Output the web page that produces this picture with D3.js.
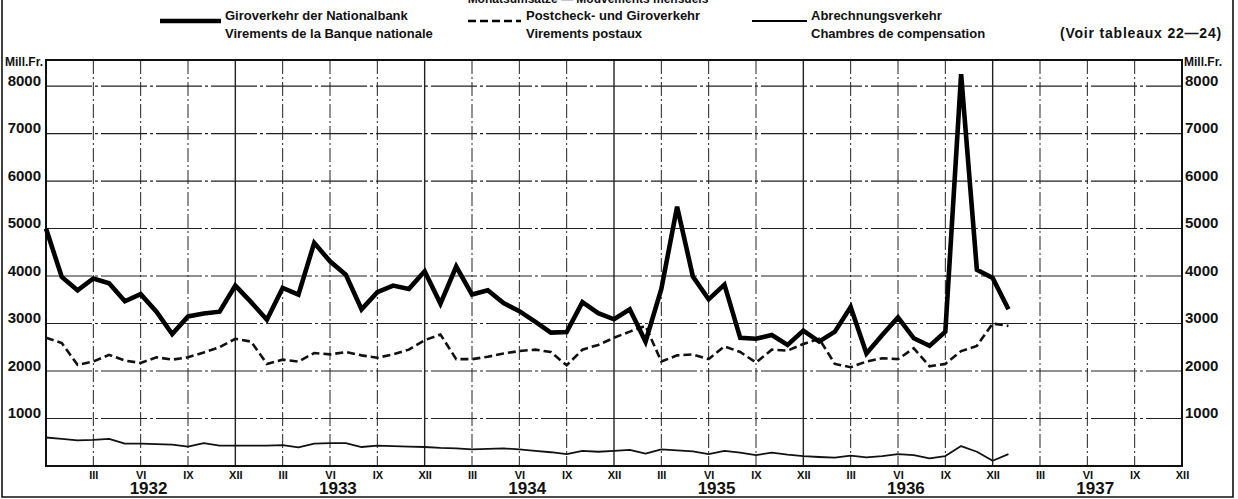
<!DOCTYPE html>
<html>
<head>
<meta charset="utf-8">
<script src="https://cdn.jsdelivr.net/npm/d3@7"></script>
<style>
  html, body { margin: 0; padding: 0; background: #fff; }
  svg { display: block; }
  text { font-family: "Liberation Sans", Arial, sans-serif; font-weight: bold; fill: #111; }
</style>
</head>
<body>
<svg id="chart" width="1238" height="499"></svg>
<script>
// ---- Data (month index 0 = XII 1931, 72 = XII 1937) ----
const monthIndex = d3.range(0, 62);
// Giroverkehr der Nationalbank (Mill. Fr.)
const giro = [5000, 3980, 3700, 3950, 3850, 3470, 3620, 3250, 2780, 3150, 3210, 3250,
              3800, 3450, 3080, 3750, 3610, 4700, 4310, 4030, 3300, 3660, 3800, 3730,
              4100, 3420, 4200, 3610, 3700, 3430, 3260, 3040, 2810, 2820, 3450, 3220,
              3090, 3300, 2620, 3730, 5460, 3990, 3510, 3820, 2700, 2680, 2760, 2550,
              2850, 2620, 2830, 3350, 2370, 2760, 3130, 2690, 2530, 2830, 8250, 4130,
              3960, 3300];
// Postcheck- und Giroverkehr
const postal = [2700, 2590, 2130, 2200, 2340, 2220, 2170, 2290, 2240, 2290, 2390, 2500,
                2680, 2620, 2150, 2240, 2200, 2380, 2350, 2400, 2330, 2280, 2350, 2450,
                2650, 2770, 2250, 2250, 2300, 2370, 2420, 2450, 2400, 2120, 2450, 2550,
                2700, 2830, 2950, 2200, 2330, 2350, 2250, 2520, 2400, 2180, 2450, 2430,
                2570, 2680, 2150, 2080, 2200, 2270, 2250, 2480, 2100, 2150, 2420, 2530,
                3000, 2950];
// Abrechnungsverkehr
const clearing = [600, 570, 540, 550, 570, 470, 470, 460, 450, 410, 480, 430,
                  430, 430, 430, 440, 390, 470, 480, 480, 400, 430, 420, 410,
                  400, 380, 370, 350, 360, 370, 350, 320, 290, 250, 320, 300,
                  320, 340, 260, 350, 330, 310, 250, 320, 280, 230, 280, 240,
                  210, 190, 175, 220, 180, 210, 250, 230, 160, 210, 420, 300,
                  110, 250];
const yTicks = [1000, 2000, 3000, 4000, 5000, 6000, 7000, 8000];
const monthTickLabels = ["III", "VI", "IX", "XII"];
const years = ["1932", "1933", "1934", "1935", "1936", "1937"];
const legendTop = ["Giroverkehr der Nationalbank", "Postcheck- und Giroverkehr", "Abrechnungsverkehr"];
const legendBottom = ["Virements de la Banque nationale", "Virements postaux", "Chambres de compensation"];

// ---- Layout ----
const svg = d3.select("#chart");
const L = 46, R = 1182, T = 60, B = 466;
const x = d3.scaleLinear().domain([0, 72]).range([L, R]);
const y = d3.scaleLinear().domain([0, 8550]).range([B, T]);

// outer frame
svg.append("path")
  .attr("d", "M2,0 V497 H1233 V0")
  .attr("fill", "none").attr("stroke", "#111").attr("stroke-width", 1.6);

// partial title at top (cut off as in the original)
svg.append("text").attr("x", 588).attr("y", 3).attr("text-anchor", "middle")
  .style("font-size", "12px").text("Monatsumsätze — Mouvements mensuels");

// grid: horizontal
const g = svg.append("g");
g.selectAll("line.h").data(yTicks).join("line")
  .attr("x1", L).attr("x2", R)
  .attr("y1", d => y(d)).attr("y2", d => y(d))
  .attr("stroke", "#222").attr("stroke-width", 1.1)
  .attr("stroke-dasharray", "46,3,3,3");

// grid: vertical every 3 months
const vTicks = d3.range(3, 72, 3);
g.selectAll("line.v").data(vTicks).join("line")
  .attr("x1", d => x(d)).attr("x2", d => x(d))
  .attr("y1", T).attr("y2", B)
  .attr("stroke", "#222")
  .attr("stroke-width", d => d % 12 === 0 ? 1.4 : 1.0)
  .attr("stroke-dasharray", d => d % 12 === 0 ? null : "14,3,2,3");

// plot frame
svg.append("rect").attr("x", L).attr("y", T).attr("width", R - L).attr("height", B - T)
  .attr("fill", "none").attr("stroke", "#111").attr("stroke-width", 2);

// axes
const leftAxis = svg.append("g").attr("transform", `translate(${L},0)`)
  .call(d3.axisLeft(y).tickValues(yTicks).tickSize(0).tickPadding(5).tickFormat(d3.format("d")));
const rightAxis = svg.append("g").attr("transform", `translate(${R},0)`)
  .call(d3.axisRight(y).tickValues(yTicks).tickSize(0).tickPadding(3).tickFormat(d3.format("d")));
[leftAxis, rightAxis].forEach(a => {
  a.select(".domain").remove();
  a.selectAll("text").style("font-size", "15px").style("font-family", "\"Liberation Sans\", Arial, sans-serif")
    .style("font-weight", "bold").attr("fill", "#111").attr("dy", "-0.05em");
});

const bottomTicks = d3.range(3, 73, 3);
const bottomAxis = svg.append("g").attr("transform", `translate(0,${B})`)
  .call(d3.axisBottom(x).tickValues(bottomTicks).tickSize(0).tickPadding(5)
    .tickFormat(d => monthTickLabels[(d / 3 - 1) % 4]));
bottomAxis.select(".domain").remove();
bottomAxis.selectAll("text").style("font-size", "11px").style("font-family", "\"Liberation Sans\", Arial, sans-serif")
  .style("font-weight", "bold").attr("fill", "#111");

// year labels
svg.selectAll("text.year").data(years).join("text")
  .attr("class", "year")
  .attr("x", (d, i) => x(6.5 + 12 * i)).attr("y", 494)
  .attr("text-anchor", "middle").style("font-size", "17px").text(d => d);

// unit labels
svg.append("text").attr("x", 5).attr("y", 66).style("font-size", "12px").text("Mill.Fr.");
svg.append("text").attr("x", 1184).attr("y", 66).style("font-size", "12px").text("Mill.Fr.");

// series lines
const line = arr => d3.line().x((d, i) => x(monthIndex[i])).y(d => y(d))(arr);
const plot = svg.append("g");
plot.append("path").attr("d", line(clearing)).attr("fill", "none")
  .attr("stroke", "#111").attr("stroke-width", 1.8).attr("stroke-linejoin", "round");
plot.append("path").attr("d", line(postal)).attr("fill", "none")
  .attr("stroke", "#111").attr("stroke-width", 2.6).attr("stroke-dasharray", "8,4");
plot.append("path").attr("d", line(giro)).attr("fill", "none")
  .attr("stroke", "#000").attr("stroke-width", 4.6).attr("stroke-linejoin", "miter").attr("stroke-miterlimit", 3);

// legend
const legendItems = [
  { x1: 160, x2: 221, tx: 225, w: 4.6, dash: null },
  { x1: 468, x2: 521, tx: 526, w: 2.6, dash: "8,4" },
  { x1: 752, x2: 807, tx: 811, w: 1.8, dash: null }
];
legendItems.forEach((it, i) => {
  svg.append("line").attr("x1", it.x1).attr("x2", it.x2).attr("y1", 21).attr("y2", 21)
    .attr("stroke", "#000").attr("stroke-width", it.w).attr("stroke-dasharray", it.dash);
  svg.append("text").attr("x", it.tx).attr("y", 19.5).style("font-size", "13px").text(legendTop[i]);
  svg.append("text").attr("x", it.tx).attr("y", 38).style("font-size", "13px").text(legendBottom[i]);
});
svg.append("text").attr("x", 1222).attr("y", 38).attr("text-anchor", "end")
  .style("font-size", "14px").style("letter-spacing", "0.8px").text("(Voir tableaux 22—24)");
</script>
</body>
</html>
